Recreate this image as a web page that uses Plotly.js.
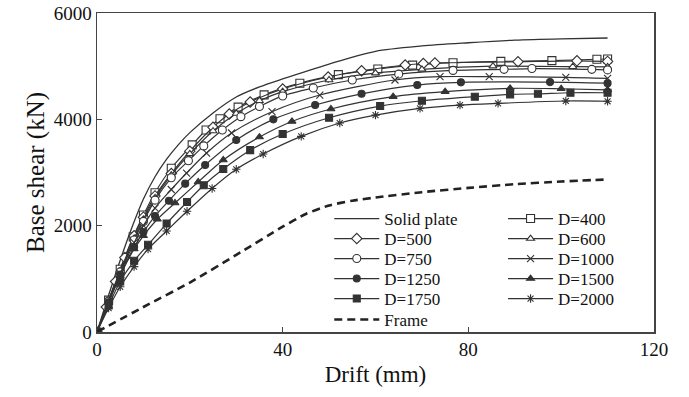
<!DOCTYPE html>
<html><head><meta charset="utf-8">
<script src="https://cdn.plot.ly/plotly-3.0.1.min.js"></script>
<style>html,body{margin:0;padding:0;background:#fff}#chart{width:689px;height:397px}</style>
</head><body><div id="chart"></div>
<script>
const solidX = [0, 2.5, 5, 7.5, 10, 12.5, 15, 17.5, 20, 25, 30, 35, 40, 50, 60, 70, 80, 90, 100, 110];
const solidY = [0, 690, 1350, 1960, 2500, 2920, 3250, 3520, 3750, 4120, 4420, 4610, 4760, 5040, 5280, 5380, 5440, 5490, 5515, 5530];

const d400X = [0, 2.5, 5, 7.8, 10, 12.5, 16, 20.5, 23.5, 26.5, 30.4, 36, 43.7, 52, 60.5, 68, 76.7, 87, 98, 107.7, 110];
const d400Y = [0, 600, 1180, 1790, 2200, 2620, 3080, 3520, 3800, 4010, 4230, 4460, 4680, 4840, 4946, 5020, 5065, 5090, 5105, 5130, 5135];

const d500X = [0, 2, 4, 6, 8, 10, 12.5, 16, 20, 25, 28.5, 33, 40, 49.8, 57, 66.4, 70.3, 72.8, 90.7, 103.4, 110];
const d500Y = [0, 470, 950, 1400, 1810, 2160, 2560, 2980, 3400, 3850, 4100, 4326, 4570, 4796, 4914, 5022, 5050, 5060, 5084, 5100, 5090];

const d600X = [0, 2.5, 5, 8, 10, 12.5, 16, 20, 25, 30, 35, 40, 50, 60, 70, 85.3, 102.5, 110];
const d600Y = [0, 590, 1150, 1760, 2120, 2520, 2950, 3350, 3780, 4110, 4350, 4520, 4740, 4870, 4940, 5000, 4990, 4985];

const d750X = [0, 2.5, 5, 8, 10, 12.5, 16, 19.7, 23, 27, 31, 35, 40, 46.6, 55, 65, 76.7, 87.7, 93.7, 106.6, 110];
const d750Y = [0, 580, 1130, 1730, 2080, 2480, 2900, 3220, 3500, 3800, 4050, 4240, 4440, 4590, 4740, 4850, 4920, 4940, 4955, 4940, 4930];

const d1000X = [0, 2.5, 5, 8, 10, 12.5, 16, 19.3, 23.6, 29, 37.7, 48, 64.2, 73.9, 84.5, 101, 110];
const d1000Y = [0, 570, 1100, 1680, 2000, 2330, 2680, 2990, 3366, 3743, 4143, 4457, 4740, 4802, 4802, 4789, 4770];

const d1250X = [0, 2.5, 5, 8, 10, 12.5, 15.5, 19, 23.3, 30, 38, 47, 57, 69, 78.4, 97.6, 110];
const d1250Y = [0, 560, 1080, 1600, 1880, 2180, 2470, 2790, 3141, 3611, 4000, 4269, 4480, 4645, 4696, 4700, 4680];

const d1500X = [0, 2.5, 5, 8, 10, 13, 16.8, 21.8, 27.2, 35, 42, 50.4, 63.8, 75, 89, 100, 110];
const d1500Y = [0, 550, 1060, 1560, 1810, 2120, 2426, 2821, 3235, 3667, 3960, 4194, 4426, 4520, 4583, 4575, 4555];

const d1750X = [0, 2.5, 5, 8, 11, 15, 19.4, 23, 27.2, 33, 40, 50, 61, 70, 81.4, 89, 95, 102, 110];
const d1750Y = [0, 500, 950, 1340, 1640, 2040, 2445, 2760, 3066, 3420, 3724, 4030, 4250, 4350, 4426, 4470, 4480, 4500, 4500];

const d2000X = [0, 2.5, 5, 8, 11, 15, 19.4, 24.8, 30, 35.8, 44, 52.3, 60, 69.6, 78.2, 86.4, 101, 110];
const d2000Y = [0, 450, 850, 1230, 1560, 1900, 2270, 2700, 3060, 3348, 3680, 3931, 4080, 4206, 4268, 4300, 4345, 4340];

const frameX = [0, 10, 20, 30, 40, 45, 50, 55, 60, 70, 80, 90, 100, 110];
const frameY = [0, 470, 930, 1450, 1980, 2220, 2380, 2470, 2530, 2630, 2710, 2780, 2830, 2870];

const xTicks = [0, 40, 80, 120];
const yTicks = [0, 2000, 4000, 6000];

const SERIF = '"Liberation Serif", "Times New Roman", serif';
const INK = '#333';

// legend slot for each entry: [column, row]
const slots = {
  'Solid plate': [0, 0], 'D=400': [1, 0],
  'D=500': [0, 1], 'D=600': [1, 1],
  'D=750': [0, 2], 'D=1000': [1, 2],
  'D=1250': [0, 3], 'D=1500': [1, 3],
  'D=1750': [0, 4], 'D=2000': [1, 4],
  'Frame': [0, 5]
};
const order = ['Solid plate', 'D=400', 'D=500', 'D=600', 'D=750', 'D=1000', 'D=1250', 'D=1500', 'D=1750', 'D=2000', 'Frame'];
function legendId(name) { const i = order.indexOf(name); return i === 0 ? 'legend' : 'legend' + (i + 1); }

function mk(name, x, y, symbol, fill, size) {
  return {
    type: 'scatter', mode: 'lines+markers', name: name, x: x, y: y, legend: legendId(name),
    line: {color: INK, width: 1.2, shape: 'spline', smoothing: 0.8},
    marker: {symbol: symbol, size: size, color: fill, line: {color: INK, width: 1.1}}
  };
}

const traces = [
  {type: 'scatter', mode: 'lines', name: 'Solid plate', x: solidX, y: solidY, legend: legendId('Solid plate'),
   line: {color: INK, width: 1.3, shape: 'spline', smoothing: 0.8}},
  mk('D=400', d400X, d400Y, 'square', 'white', 8),
  mk('D=500', d500X, d500Y, 'diamond', 'white', 8),
  mk('D=600', d600X, d600Y, 'triangle-up', 'white', 7),
  mk('D=750', d750X, d750Y, 'circle', 'white', 8),
  mk('D=1000', d1000X, d1000Y, 'x-thin-open', INK, 7),
  mk('D=1250', d1250X, d1250Y, 'circle', INK, 7),
  mk('D=1500', d1500X, d1500Y, 'triangle-up', INK, 7),
  mk('D=1750', d1750X, d1750Y, 'square', INK, 7),
  mk('D=2000', d2000X, d2000Y, 'asterisk-open', INK, 7),
  {type: 'scatter', mode: 'lines', name: 'Frame', x: frameX, y: frameY, legend: legendId('Frame'),
   line: {color: '#222', width: 2.6, dash: '8px,5px', shape: 'spline', smoothing: 0.6}}
];

const axisBase = {
  showline: true, mirror: true, linecolor: '#444', linewidth: 1.5,
  ticks: 'inside', ticklen: 5, tickcolor: '#444', tickwidth: 1,
  showgrid: false, zeroline: false,
  tickfont: {family: SERIF, size: 19, color: '#111'}
};

const layout = {
  width: 689, height: 397,
  margin: {l: 97, r: 35, t: 13, b: 65},
  paper_bgcolor: 'white', plot_bgcolor: 'white',
  font: {family: SERIF, color: '#111'},
  showlegend: true,
  xaxis: Object.assign({}, axisBase, {range: [0, 120], tickvals: xTicks,
    title: {text: 'Drift (mm)', font: {size: 23, color: '#111'}, standoff: 6}}),
  yaxis: Object.assign({}, axisBase, {range: [0, 6000], tickvals: yTicks,
    title: {text: 'Base shear (kN)', font: {size: 25, color: '#111'}, standoff: 2}})
};

// legend grid geometry (plot area: 557 x 319 px)
const colX = [0.417, 0.729];
const rowPx = [219, 239, 259, 279, 299, 320];
order.forEach(function (name) {
  const s = slots[name];
  layout[legendId(name)] = {
    x: colX[s[0]], y: (332 - rowPx[s[1]]) / 319, xanchor: 'left', yanchor: 'middle',
    bgcolor: 'rgba(0,0,0,0)', borderwidth: 0, itemwidth: 45,
    font: {family: SERIF, size: 17, color: '#111'}
  };
});

Plotly.newPlot('chart', traces, layout, {displayModeBar: false, staticPlot: true});
</script>
</body></html>
